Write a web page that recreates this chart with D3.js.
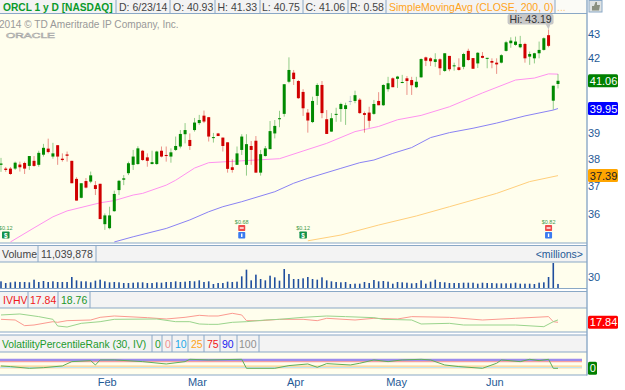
<!DOCTYPE html>
<html><head><meta charset="utf-8">
<script src="https://cdn.jsdelivr.net/npm/d3@7/dist/d3.min.js"></script>
<style>html,body{margin:0;padding:0;background:#fff}svg{display:block}text{font-family:"Liberation Sans",Arial,sans-serif}</style>
</head><body><div id="chart"></div>
<script>
// ---------- daily candles (price, log axis) ----------
const opens=[37.79,37.65,37.65,37.65,37.80,37.86,37.75,37.94,37.79,38.17,38.40,38.10,38.53,38.02,38.18,37.94,37.27,36.58,37.19,37.17,37.04,37.09,35.64,35.50,36.10,36.86,37.24,37.48,37.79,37.82,38.32,38.07,37.82,37.82,38.32,38.16,38.10,38.35,38.48,38.95,38.73,39.11,39.38,39.67,39.61,38.80,38.98,38.82,38.64,37.70,37.79,38.35,37.79,38.50,38.70,37.50,38.12,38.38,38.98,39.53,39.74,41.02,41.39,41.05,40.61,39.79,39.42,40.45,40.89,39.53,39.05,39.70,39.93,39.93,40.25,40.25,40.30,39.77,39.79,39.74,40.25,40.08,40.72,41.16,41.14,40.98,41.16,41.09,40.80,41.20,42.02,41.98,41.83,41.94,41.46,42.08,41.65,41.61,41.63,42.29,41.99,41.77,42.08,41.96,41.87,41.80,41.80,42.29,42.61,42.54,42.44,42.58,42.05,41.98,42.19,42.33,42.95,40.26,40.93];
const closes=[37.84,37.60,37.45,37.87,37.70,37.65,38.12,37.75,38.24,38.43,38.27,38.22,38.10,37.97,38.13,37.11,36.48,37.11,36.95,37.40,36.90,35.82,35.95,35.95,36.72,37.20,37.29,37.85,38.10,38.41,37.97,37.94,37.89,38.29,38.10,38.12,38.26,38.50,38.96,39.11,38.50,39.40,39.50,39.44,38.86,38.84,38.88,38.50,37.64,37.60,38.22,38.86,38.57,38.35,37.50,38.19,38.41,39.07,39.27,39.57,40.92,41.50,41.13,40.36,39.96,39.48,40.25,40.89,39.77,38.96,39.57,39.74,40.13,40.08,40.25,40.48,39.77,39.70,39.47,40.13,40.08,40.89,40.96,40.80,41.23,41.01,41.05,40.88,41.02,41.95,41.88,41.86,41.94,41.57,42.19,41.53,41.69,41.50,42.16,41.91,41.55,42.21,42.00,42.00,41.80,41.73,42.11,42.65,42.72,42.68,42.58,41.98,42.16,42.19,42.33,42.82,42.50,40.86,41.06];
const highs=[38.05,37.71,37.71,37.91,37.91,37.91,38.12,38.12,38.32,38.58,38.78,38.62,38.53,38.22,38.29,37.94,37.33,37.11,37.30,37.54,37.19,37.09,36.02,36.26,36.84,37.23,37.41,37.91,38.35,38.49,38.35,38.22,38.32,38.32,38.48,38.48,38.41,38.86,39.11,39.38,38.98,39.58,39.70,39.87,39.62,39.00,39.00,38.82,38.64,38.00,38.48,38.95,38.95,38.69,38.88,38.35,38.50,39.46,39.50,39.86,40.92,42.02,41.50,41.09,40.72,39.93,40.42,40.96,41.05,39.89,39.77,39.98,40.18,40.18,40.45,40.66,40.36,39.83,40.02,40.29,40.60,40.92,41.22,41.20,41.26,41.30,41.25,41.22,41.22,41.98,42.05,42.02,42.19,41.98,42.19,42.08,41.80,41.98,42.21,42.38,41.99,42.24,42.24,42.00,41.98,41.98,42.15,42.71,42.86,42.89,42.92,42.63,42.26,42.21,42.68,42.86,43.19,40.86,41.33];
const lows=[37.53,37.53,37.42,37.60,37.54,37.45,37.60,37.72,37.72,38.10,38.22,38.02,37.79,37.91,37.91,37.11,36.48,36.56,36.92,37.11,36.68,35.82,35.44,35.46,36.08,36.68,37.04,37.41,37.60,37.79,37.94,37.72,37.81,37.79,38.07,37.91,37.87,38.31,38.41,38.60,38.35,39.05,39.31,39.38,38.67,38.63,38.88,38.29,37.50,37.50,37.79,38.16,37.39,37.79,37.50,37.39,38.10,38.38,38.79,39.22,39.63,40.96,40.89,40.33,39.66,39.01,39.38,40.09,39.57,38.96,39.04,39.43,39.43,39.31,40.09,40.16,39.74,39.01,39.20,39.70,40.08,40.05,40.62,40.80,40.77,40.96,40.49,40.49,40.76,41.18,41.66,41.66,41.63,41.29,41.42,41.45,41.47,41.47,41.53,41.88,41.54,41.58,41.98,41.57,41.57,41.34,41.77,42.26,42.42,42.50,42.40,41.80,41.71,41.77,41.98,42.30,42.44,39.91,40.75];
// ---------- moving averages ----------
const sma50Days=[2,7,11,14,21,24,28,30,35,37,41,44,51,59,64,69,75,80,84,89,95,102,109,113,116,118];
const sma50Vals=[35.02,35.51,35.90,36.11,36.40,36.48,36.68,36.74,37.04,37.22,37.67,37.87,37.94,38.02,38.31,38.60,39.05,39.25,39.51,39.68,40.02,40.57,41.09,41.17,41.34,41.33];
const sma100Days=[24,28,35,40,44,47,51,58,62,65,72,76,79,83,87,91,95,100,105,111,117,118];
const sma100Vals=[35.02,35.20,35.49,35.79,36.08,36.26,36.44,36.80,37.11,37.29,37.66,37.87,37.97,38.22,38.44,38.82,39.01,39.18,39.38,39.66,39.89,39.95];
const sma200Days=[65,72,80,88,95,105,112,118];
const sma200Vals=[35.06,35.26,35.61,35.93,36.26,36.74,37.17,37.39];
// ---------- volume (millions) ----------
const volumes=[18.2,13.6,15.5,17.3,16.4,16.4,15.5,22.7,16.4,19.1,16.4,18.2,16.4,16.4,16.4,30,20.9,18.2,18.2,15.5,20,22.7,18.2,15.5,16.4,15.5,13.6,13.6,14.5,15.5,15.5,13.6,13.6,15.5,14.5,16.4,16.4,18.2,16.4,17.3,19.1,18.2,20.9,16.4,18.2,
10.9,13.6,13.6,17.3,16.4,17.3,31.8,50,20.9,36.4,24.5,20.9,33.6,29.1,20,51.8,38.2,24.5,24.5,26.4,30,24.5,22.7,29.1,20.9,18.2,16.4,15.5,16.4,10.9,11.8,11.8,16.4,13.6,21.8,18.2,19.1,17.3,11.8,16.4,15.5,14.5,12.7,13.6,
20.9,11.8,17.3,22.7,16.4,15.5,13.6,13.6,13.6,14.5,14.5,14.5,11.8,14.5,13.6,13.6,12.7,12.7,12.7,12.7,14.5,11.8,11.8,11.8,10.9,14.5,15.5,30,68.2,11.04];
// ---------- IV / HV ----------
const ivDays=[0,3,5,7,11,12,14,19,21,24,31,35,39,42,44,46,49,51,52,55,59,64,67,69,75,79,84,87,95,102,109,116,117,118];
const ivVals=[18.98,18.72,16.55,16.80,18.08,17.83,18.47,18.72,19.75,20.26,19.62,19.11,19.75,20.52,20.26,20.26,21.29,20.65,18.47,18.47,18.98,18.98,18.47,19.37,18.72,19.37,19.11,20.01,19.75,18.72,19.37,20.01,18.08,17.84];
const hvDays=[0,4,8,11,12,14,17,21,24,33,37,40,42,44,46,49,52,56,59,64,69,73,79,81,87,89,95,98,109,115,117,118];
const hvVals=[20.65,21.03,20.01,18.98,16.42,16.03,17.44,18.08,18.98,19.11,18.08,18.08,17.19,17.06,17.06,17.83,18.08,18.72,18.98,19.75,20.26,20.01,19.62,18.98,18.72,17.19,17.44,16.80,16.80,16.16,18.08,18.76];
// ---------- volatility percentile rank ----------
const vprDays=[0,2,6,9,13,15,19,20,21,24,30,35,39,40,44,51,52,58,61,65,67,69,74,76,79,82,85,89,91,94,97,102,105,106,110,112,114,116,117,118];
const vprVals=[26,19,0,7,26,74,85,37,93,93,74,48,74,100,93,100,0,0,30,48,11,52,37,56,93,74,93,100,93,37,19,0,56,93,74,100,85,100,0,0];
const vprLevels=[0,10,25,75,90,100];
// ---------- axes / labels ----------
const priceTicks=[36,37,38,39,42,43];
const monthDays=[22.4,41.5,62.3,83.7,104.5];
const monthLabels=["Feb","Mar","Apr","May","Jun"];
const eventDays=[1,51,64,116];
const eventLabels=["$0.12","$0.68","$0.12","$0.82"];
const eventKinds=["div","earn","div","earn"];

const W=625,H=390,axisX=587,FS=10.5;
const svg=d3.select("#chart").append("svg").attr("width",W).attr("height",H);
const x=d3.scaleLinear().domain([0,118]).range([1,558]);
const y=d3.scaleLog().domain([36,43]).range([214,34]);
const yVol=d3.scaleLinear().domain([0,30]).range([288,277]);
const yIv=d3.scaleLinear().domain([16,17.84]).range([327.1,322.3]);
const yVpr=d3.scaleLinear().domain([0,100]).range([368.3,359.3]);

const CREAM="#fffeed",HEAD="#f3f3f3",BORDER="#8aa8c6",INK="#444",AXIS="#1f5a96";
const GREEN="#008a00",RED="#d00000";

// panels
const panels=[[14,243],[262,288],[308,332],[352,375]];
const heads=[[0,13],[245,262],[291,308],[335,352]];
heads.forEach(h=>svg.append("rect").attr("x",0).attr("y",h[0]).attr("width",axisX).attr("height",h[1]-h[0]).attr("fill",HEAD));
svg.append("rect").attr("x",555).attr("y",0).attr("width",32).attr("height",13).attr("fill","#fbfbf6");
panels.forEach(p=>svg.append("rect").attr("x",0).attr("y",p[0]).attr("width",axisX).attr("height",p[1]-p[0]).attr("fill",CREAM));
[13.5,243,245.5,262,288.5,291.5,308,332,335,352,375].forEach(v=>svg.append("line").attr("x1",0).attr("x2",axisX).attr("y1",v).attr("y2",v).attr("stroke",BORDER).attr("stroke-width",1.2));
svg.append("line").attr("x1",axisX).attr("x2",axisX).attr("y1",0).attr("y2",375.5).attr("stroke",BORDER).attr("stroke-width",1.4);

function label(t,xx,yy,o={}){return svg.append("text").text(t).attr("x",xx).attr("y",yy).attr("font-size",o.size||FS).attr("font-weight",o.w||"normal").attr("fill",o.c||INK).attr("text-anchor",o.a||"start");}
function sep(v,a,b){svg.append("line").attr("x1",v).attr("x2",v).attr("y1",a).attr("y2",b).attr("stroke",BORDER).attr("stroke-width",1);}

// header rows
label("ORCL 1 y D [NASDAQ]",3,11,{c:"#0a9a2a",w:"bold",size:10.2});
[["D: 6/23/14",119],["O: 40.93",173],["H: 41.33",217.5],["L: 40.75",262],["C: 41.06",305.5],["R: 0.58",350]].forEach(d=>label(d[0],d[1],11));
[116,170,215,260,303,348,386,555].forEach(v=>sep(v,0,13));
label("SimpleMovingAvg (CLOSE, 200, 0)",389,11,{c:"#ffa31a"});
label("...",557,11,{c:"#ffc97a"});

label("Volume",2,258);label("11,039,878",41,258);[38,96].forEach(v=>sep(v,245,262));
label("<millions>",583,258,{a:"end",c:AXIS});
label("IVHV",3,304,{c:"#f01818"});label("17.84",30,304,{c:"#f01818"});label("18.76",61,304,{c:"#22962a"});[28,58,90].forEach(v=>sep(v,291,308));
label("VolatilityPercentileRank (30, IV)",2,348,{c:"#1c9a2c",size:10.3});
[["0",155,"#1c9a2c"],["0",165,"#f09090"],["10",175,"#20a8e8"],["25",191,"#ffa31a"],["75",207,"#f01818"],["90",222,"#2020f0"],["100",239,"#909090"]].forEach(d=>label(d[0],d[1],348,{c:d[2]}));
[152,162,172,188,204,220,237,259].forEach(v=>sep(v,335,352));

// watermark
label("2014 © TD Ameritrade IP Company, Inc.",-1,27.5,{c:"#999",size:10.1});
svg.append("text").text("ORACLE").attr("x",6).attr("y",38).attr("textLength",49).attr("lengthAdjust","spacingAndGlyphs").attr("font-size",7.6).attr("fill",CREAM).attr("stroke","#aaa").attr("stroke-width",.55);

// main panel
svg.append("defs").append("clipPath").attr("id","mainClip").append("rect").attr("x",0).attr("y",14).attr("width",axisX).attr("height",229);
const main=svg.append("g").attr("clip-path","url(#mainClip)");
const lineOf=(days,vals,yS)=>d3.line().x((d,i)=>x(days[i])).y(d=>yS(d))(vals);
[[sma200Days,sma200Vals,"#ffcf7c"],[sma100Days,sma100Vals,"#8a82f4"],[sma50Days,sma50Vals,"#ff92f0"]].forEach(s=>{
  main.append("path").attr("d",lineOf(s[0],s[1],y)).attr("fill","none").attr("stroke",s[2]).attr("stroke-width",1);
});
const col=i=>closes[i]>opens[i]?GREEN:closes[i]<opens[i]?RED:"#8fa3c4";
const idx=d3.range(opens.length);
main.selectAll("line.wick").data(idx).join("line").attr("class","wick")
 .attr("x1",i=>x(i)).attr("x2",i=>x(i)).attr("y1",i=>y(highs[i])).attr("y2",i=>y(lows[i]))
 .attr("stroke",col).attr("stroke-width",1).attr("opacity",.42);
main.selectAll("rect.body").data(idx).join("rect").attr("class","body")
 .attr("x",i=>x(i)-1.5).attr("width",3)
 .attr("y",i=>Math.min(y(opens[i]),y(closes[i])))
 .attr("height",i=>Math.max(1,Math.abs(y(opens[i])-y(closes[i]))))
 .attr("fill",col);

// Hi tooltip
const hi=d3.max(highs),hiI=highs.indexOf(hi);
const tipG=svg.append("g");
tipG.append("path").attr("d",`M${x(hiI)-3},24 L${x(hiI)},${y(hi)} L${x(hiI)+2},24Z`).attr("fill","#c8c8c8");
tipG.append("rect").attr("x",x(hiI)-41).attr("y",14).attr("width",46).attr("height",10.5).attr("rx",2).attr("fill","#c8c8c8");
tipG.append("text").text("Hi: "+hi.toFixed(2)).attr("x",x(hiI)-39).attr("y",23).attr("font-size",FS).attr("fill","#333");

// events
eventDays.forEach((d,k)=>{
  const cx=x(d),kind=eventKinds[k];
  const g=svg.append("g");
  if(kind==="div"){
    g.append("text").text(eventLabels[k]).attr("x",cx).attr("y",229.5).attr("text-anchor","middle").attr("font-size",5.5).attr("fill","#3f9a4a");
    g.append("rect").attr("x",cx-3.7).attr("y",231.5).attr("width",7.5).attr("height",7).attr("rx",.8).attr("fill","#0f9048");
    g.append("text").text("$").attr("x",cx).attr("y",237.6).attr("text-anchor","middle").attr("font-size",6.5).attr("font-weight","bold").attr("fill","#fff");
  }else{
    g.append("text").text(eventLabels[k]).attr("x",cx).attr("y",223.5).attr("text-anchor","middle").attr("font-size",5.5).attr("fill","#3f9a4a");
    g.append("rect").attr("x",cx-3.5).attr("y",225).attr("width",7).attr("height",6).attr("rx",.8).attr("fill","#ee4a4a");
    g.append("rect").attr("x",cx-2).attr("y",227).attr("width",4).attr("height",2).attr("fill","#fbc8c8");
    g.append("rect").attr("x",cx-3.5).attr("y",232).attr("width",7).attr("height",6.5).attr("rx",.8).attr("fill","#3a7af0");
    g.append("rect").attr("x",cx-.7).attr("y",233.5).attr("width",1.4).attr("height",3.5).attr("fill","#fff");
  }
});

// volume panel
svg.selectAll("rect.vol").data(volumes).join("rect").attr("class","vol")
 .attr("x",(d,i)=>x(i)-.8).attr("width",1.6).attr("y",d=>yVol(d)).attr("height",d=>288-yVol(d)).attr("fill","#1f4e9e");

// IV / HV panel
svg.append("path").attr("d",lineOf(ivDays,ivVals,yIv)).attr("fill","none").attr("stroke","#fb9a90").attr("stroke-width",1);
svg.append("path").attr("d",lineOf(hvDays,hvVals,yIv)).attr("fill","none").attr("stroke","#9ad48c").attr("stroke-width",1);

// VPR panel
const lvlColor=["#ffe9c8","#bce6f4","#ffd08c","#f7a0a0","#9c8cec","#9c8cec"];
const xEnd=582;
svg.append("rect").attr("x",0).attr("width",xEnd).attr("y",yVpr(100)).attr("height",yVpr(75)-yVpr(100)).attr("fill","#9c8cec");
vprLevels.forEach((l,k)=>svg.append("line").attr("x1",0).attr("x2",xEnd).attr("y1",yVpr(l)).attr("y2",yVpr(l)).attr("stroke",lvlColor[k]).attr("stroke-width",1.2));
svg.append("path").attr("d",lineOf(vprDays,vprVals,yVpr)).attr("fill","none").attr("stroke","#5fae5a").attr("stroke-width",1);

// axes via d3
const axisStyle=g=>{g.select(".domain").remove();g.selectAll("line").remove();g.selectAll("text").attr("font-family",'"Liberation Sans",Arial,sans-serif').attr("font-size",11).attr("fill",AXIS);};
svg.append("g").attr("transform",`translate(588,0)`).call(d3.axisRight(y).tickValues(priceTicks).tickFormat(d3.format("d")).tickSize(0).tickPadding(0)).call(axisStyle);
svg.append("g").attr("transform",`translate(588,0)`).call(d3.axisRight(yVol).tickValues([30]).tickFormat(d3.format("d")).tickSize(0).tickPadding(0)).call(axisStyle);
svg.append("g").attr("transform",`translate(0,375)`).call(d3.axisBottom(x).tickValues(monthDays).tickFormat((d,i)=>monthLabels[i]).tickSize(0).tickPadding(3)).call(axisStyle);

// value flags
function flag(v,yy,bg,fg,w){
  svg.append("rect").attr("x",588).attr("y",yy-6.5).attr("width",w||30).attr("height",13).attr("rx",1.5).attr("fill",bg);
  svg.append("text").text(v).attr("x",589.8).attr("y",yy+4).attr("font-size",11).attr("fill",fg);
}
flag(closes[closes.length-1].toFixed(2),y(closes[closes.length-1]),"#008000","#fff");
flag(sma100Vals[sma100Vals.length-1].toFixed(2),y(sma100Vals[sma100Vals.length-1]),"#0000ff","#fff");
flag(sma200Vals[sma200Vals.length-1].toFixed(2),y(sma200Vals[sma200Vals.length-1]),"#ffa500","#222");
flag(ivVals[ivVals.length-1].toFixed(2),yIv(ivVals[ivVals.length-1]),"#ff0000","#fff");
flag(String(vprVals[vprVals.length-1]),yVpr(vprVals[vprVals.length-1]),"#008000","#fff",9);

// hand icon
svg.append("rect").attr("x",589).attr("y",.5).attr("width",13).attr("height",11.5).attr("fill","#dfe3e3").attr("stroke",BORDER);
svg.append("path").attr("d","M592,6 h2 l1.5,-4 h1.5 v3 h3 l-1,5.5 h-7z").attr("fill","#8a9080");
</script></body></html>
